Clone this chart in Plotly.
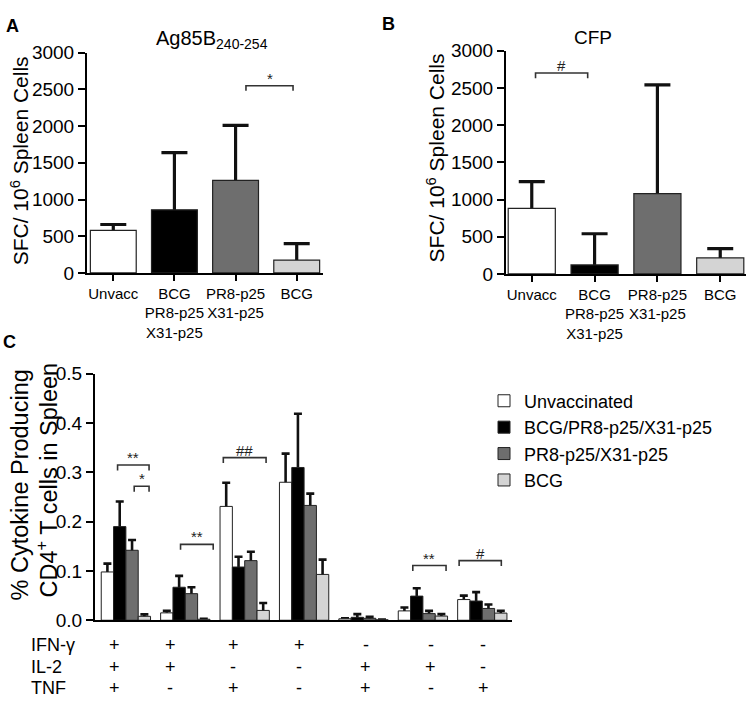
import plotly.graph_objects as go

# ---------------- data ----------------
ab_categories = ["Unvacc", "BCG<br>PR8-p25<br>X31-p25", "PR8-p25<br>X31-p25", "BCG"]
ab_colors = ["#ffffff", "#000000", "#6e6e6e", "#d4d4d4"]

a_values = [580, 860, 1260, 175]
a_errors = [80, 780, 750, 225]

b_values = [880, 120, 1080, 215]
b_errors = [360, 420, 1460, 125]

c_groups = ["+++", "++-", "+-+", "+--", "-++", "-+-", "--+"]
c_series = ["Unvaccinated", "BCG/PR8-p25/X31-p25", "PR8-p25/X31-p25", "BCG"]
c_unvacc = [0.098, 0.015, 0.231, 0.280, 0.003, 0.019, 0.042]
c_unvacc_err = [0.017, 0.004, 0.048, 0.058, 0.001, 0.007, 0.008]
c_bcg_flu = [0.190, 0.067, 0.108, 0.310, 0.006, 0.049, 0.039]
c_bcg_flu_err = [0.051, 0.023, 0.021, 0.109, 0.0065, 0.016, 0.018]
c_flu = [0.142, 0.054, 0.121, 0.233, 0.004, 0.0135, 0.024]
c_flu_err = [0.021, 0.013, 0.018, 0.024, 0.003, 0.0055, 0.008]
c_bcg = [0.008, 0.002, 0.020, 0.093, 0.001, 0.0085, 0.0145]
c_bcg_err = [0.004, 0.001, 0.015, 0.030, 0.0005, 0.004, 0.0045]

table_rows = ["IFN-γ", "IL-2", "TNF"]
table_ifng = ["+", "+", "+", "+", "-", "-", "-"]
table_il2 = ["+", "+", "-", "-", "+", "+", "-"]
table_tnf = ["+", "-", "+", "-", "+", "-", "+"]

# significance brackets: (x0, x1, y, label)
a_brackets = [(2.17, 2.94, 2550, "*")]
b_brackets = [(0.06, 0.89, 2700, "#")]
c_brackets = [(-0.14, 0.39, 0.315, "**"), (0.14, 0.39, 0.272, "*"),
              (0.92, 1.47, 0.154, "**"), (1.64, 2.36, 0.330, "##"),
              (4.83, 5.39, 0.111, "**"), (5.61, 6.32, 0.121, "#")]

# layout-only: horizontal nudges of the +/- table columns (in group units)
SIGN_NUDGE = [-0.19, -0.25, -0.19, -0.08, 0.04, 0.13, 0.02]

FONT = "Liberation Sans, Arial, sans-serif"
W, H = 751, 705

fig = go.Figure()

def add_panel(values, errors, xa, ya, grp, capw):
    xs = list(range(len(values)))
    # error whiskers (lower half hidden behind opaque bars)
    fig.add_trace(go.Bar(x=xs, y=values, width=0.75, offsetgroup=grp,
                         marker=dict(color="rgba(0,0,0,0)", line=dict(width=0)),
                         error_y=dict(type="data", array=errors, symmetric=True,
                                      color="#111111", thickness=3.2, width=capw),
                         xaxis=xa, yaxis=ya, showlegend=False, hoverinfo="skip"))
    fig.add_trace(go.Bar(x=xs, y=values, width=0.75, offsetgroup=grp,
                         marker=dict(color=ab_colors, line=dict(color="#222222", width=1.2)),
                         xaxis=xa, yaxis=ya, showlegend=False))

add_panel(a_values, a_errors, "x", "y", "a", 13)
add_panel(b_values, b_errors, "x2", "y2", "b", 13)

c_vals = [c_unvacc, c_bcg_flu, c_flu, c_bcg]
c_errs = [c_unvacc_err, c_bcg_flu_err, c_flu_err, c_bcg_err]
cx = list(range(len(c_groups)))
for k in range(4):
    fig.add_trace(go.Bar(x=cx, y=c_vals[k], offsetgroup=str(k),
                         marker=dict(color="rgba(0,0,0,0)", line=dict(width=0)),
                         error_y=dict(type="data", array=c_errs[k], symmetric=True,
                                      color="#111111", thickness=2.6, width=4),
                         xaxis="x3", yaxis="y3", showlegend=False, hoverinfo="skip"))
for k in range(4):
    fig.add_trace(go.Bar(x=cx, y=c_vals[k], offsetgroup=str(k), name=c_series[k],
                         marker=dict(color=ab_colors[k], line=dict(color="#222222", width=1)),
                         xaxis="x3", yaxis="y3", showlegend=True))

def px_x(p):
    return p / W

def px_y(p):
    return 1 - p / H

axis_common = dict(showline=True, linecolor="black", linewidth=2, showgrid=False,
                   zeroline=False, ticks="outside", tickcolor="black", tickwidth=2)
ytickfont = dict(family=FONT, size=19, color="black")
xtickfont = dict(family=FONT, size=15, color="black")

fig.update_layout(
    width=W, height=H, margin=dict(l=0, r=0, t=0, b=0),
    paper_bgcolor="white", plot_bgcolor="white",
    barmode="group", bargap=0.17, bargroupgap=0.0,
    font=dict(family=FONT, color="black"),
    xaxis=dict(domain=[px_x(87), px_x(323)], range=[-0.43, 3.43], anchor="y",
               tickvals=list(range(4)), ticktext=ab_categories, ticklen=6, tickangle=0,
               tickfont=xtickfont, **axis_common),
    yaxis=dict(domain=[px_y(271), px_y(44)], range=[0, 3000], anchor="x",
               tickvals=[0, 500, 1000, 1500, 2000, 2500, 3000], ticklen=7,
               tickfont=ytickfont, **axis_common),
    xaxis2=dict(domain=[px_x(506), px_x(746)], range=[-0.41, 3.41], anchor="y2",
                tickvals=list(range(4)), ticktext=ab_categories, ticklen=6, tickangle=0,
                tickfont=xtickfont, **axis_common),
    yaxis2=dict(domain=[px_y(272), px_y(42)], range=[0, 3000], anchor="x2",
                tickvals=[0, 500, 1000, 1500, 2000, 2500, 3000], ticklen=7,
                tickfont=ytickfont, **axis_common),
    xaxis3=dict(domain=[px_x(95), px_x(512)], range=[-0.52, 6.5], anchor="y3",
                showline=True, linecolor="black", linewidth=2, showgrid=False,
                zeroline=False, showticklabels=False, ticks=""),
    yaxis3=dict(domain=[px_y(629), px_y(375)], range=[0, 0.5], anchor="x3",
                tickvals=[0, 0.1, 0.2, 0.3, 0.4, 0.5], tickformat=".1f", ticklen=7,
                tickfont=ytickfont, **axis_common),
    legend=dict(x=px_x(484), y=px_y(384), xanchor="left", yanchor="top",
                font=dict(family=FONT, size=18, color="black"),
                bgcolor="rgba(0,0,0,0)", tracegroupgap=0, itemwidth=30),
    showlegend=True,
)

annotations = []
shapes = []

def paper_text(text, x, y, size, angle=0, xanchor="center", bold=False):
    annotations.append(dict(text=("<b>%s</b>" % text) if bold else text,
                            x=px_x(x), y=px_y(y), xref="paper", yref="paper",
                            xanchor=xanchor, yanchor="middle", showarrow=False,
                            textangle=angle, font=dict(size=size, family=FONT, color="black")))

# panel letters
for letter, x, y in [("A", 13, 16), ("B", 388, 14), ("C", 9, 342)]:
    paper_text(letter, x, y, 18, bold=True)

# titles
paper_text("Ag85B<sub>240-254</sub>", 212, 30, 20)
paper_text("CFP", 593, 28, 19)

# y-axis titles
paper_text("SFC/ 10<sup>6</sup> Spleen Cells", 20, 156, 21, angle=-90)
paper_text("SFC/ 10<sup>6</sup> Spleen Cells", 436, 153, 21, angle=-90)
paper_text("% Cytokine Producing", 20, 490, 23.5, angle=-90)
paper_text("CD4<sup>+</sup> T cells in Spleen", 47, 485, 23.5, angle=-90)

# brackets
def bracket(xref, yref, x0, x1, y, drop, label, fs):
    shapes.append(dict(type="path", xref=xref, yref=yref,
                       path="M %f,%f L %f,%f L %f,%f L %f,%f" % (x0, y - drop, x0, y, x1, y, x1, y - drop),
                       line=dict(color="#333333", width=1.6)))
    annotations.append(dict(text=label, x=(x0 + x1) / 2, y=y, xref=xref, yref=yref,
                            xanchor="center", yanchor="bottom", showarrow=False, yshift=-3,
                            font=dict(size=fs, family=FONT, color="#222222")))

for x0, x1, y, lab in a_brackets:
    bracket("x", "y", x0, x1, y, 70, lab, 15)
for x0, x1, y, lab in b_brackets:
    bracket("x2", "y2", x0, x1, y, 70, lab, 15)
for x0, x1, y, lab in c_brackets:
    bracket("x3", "y3", x0, x1, y, 0.011, lab, 15)

# table below panel C
row_y = [654, 677, 699]
for label, ry in zip(table_rows, row_y):
    paper_text(label, 29, ry, 18, xanchor="left")
for signs, ry in zip([table_ifng, table_il2, table_tnf], row_y):
    for gi, s in enumerate(signs):
        annotations.append(dict(text=s, x=gi + SIGN_NUDGE[gi], y=px_y(ry), xref="x3", yref="paper",
                                xanchor="center", yanchor="middle", showarrow=False,
                                font=dict(size=18, family=FONT, color="black")))

fig.update_layout(annotations=annotations, shapes=shapes)
fig.write_html("out.html", config={"displayModeBar": False},
               post_script="document.body.style.margin='0';document.body.style.overflow='hidden';")
